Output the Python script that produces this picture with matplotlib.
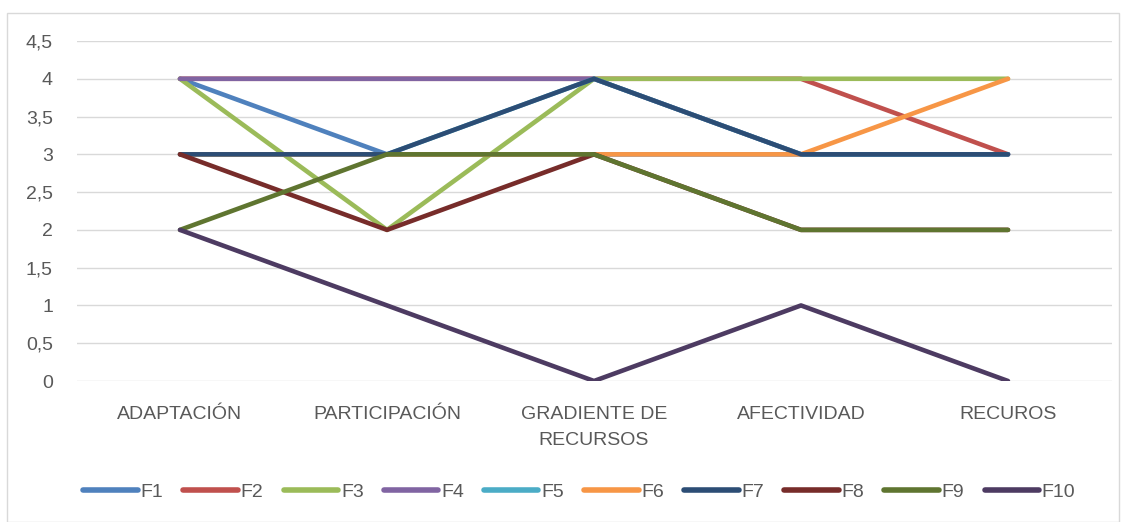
import matplotlib
matplotlib.use("Agg")
import matplotlib.pyplot as plt
from matplotlib.patches import Rectangle

categories = ["ADAPTACIÓN", "PARTICIPACIÓN", "GRADIENTE DE\nRECURSOS", "AFECTIVIDAD", "RECUROS"]
series_names = ["F1", "F2", "F3", "F4", "F5", "F6", "F7", "F8", "F9", "F10"]
f1 = [4, 3, 3, 3, 3]
f2 = [4, 4, 4, 4, 3]
f3 = [4, 2, 4, 4, 4]
f4 = [4, 4, 4, 3, 3]
f5 = [3, 3, 4, 3, 3]
f6 = [3, 3, 3, 3, 4]
f7 = [3, 3, 4, 3, 3]
f8 = [3, 2, 3, 2, 2]
f9 = [2, 3, 3, 2, 2]
f10 = [2, 1, 0, 1, 0]
y_ticks = [0, 0.5, 1, 1.5, 2, 2.5, 3, 3.5, 4, 4.5]
y_tick_labels = ["0", "0,5", "1", "1,5", "2", "2,5", "3", "3,5", "4", "4,5"]

colors = ["#4F81BD", "#C0504D", "#9BBB59", "#8064A2", "#4BACC6",
          "#F79646", "#2C4D75", "#772C2A", "#5F7530", "#4D3B62"]

plt.rcParams['font.family'] = ['Liberation Sans', 'DejaVu Sans']

fig = plt.figure(figsize=(11.25, 5.22), dpi=100)
fig.patches.append(Rectangle((7 / 1125, 0), 1112 / 1125, 1 - 13 / 522,
                             transform=fig.transFigure, fill=False,
                             edgecolor="#d9d9d9", linewidth=1))
ax = fig.add_axes([76.5 / 1125, 1 - 381 / 522, 1035 / 1125, 340 / 522])

x = list(range(len(categories)))
all_series = [f1, f2, f3, f4, f5, f6, f7, f8, f9, f10]
for name, vals, c in zip(series_names, all_series, colors):
    ax.plot(x, vals, color=c, linewidth=3.3, solid_capstyle="round",
            solid_joinstyle="round", label=name)

ax.set_xlim(-0.5, len(categories) - 0.5)
ax.set_ylim(0, 4.5)
ax.set_yticks(y_ticks)
ax.set_yticklabels(y_tick_labels)
ax.set_xticks(x)
ax.set_xticklabels(categories, linespacing=1.7)
ax.grid(axis="y", color="#d9d9d9", linewidth=1)
ax.set_axisbelow(True)
for s in ax.spines.values():
    s.set_visible(False)
ax.tick_params(axis="both", length=0, colors="#595959", labelsize=14)
ax.tick_params(axis="x", pad=18)
ax.tick_params(axis="y", pad=17)

leg = fig.legend(loc="center", bbox_to_anchor=(0.515, 1 - 492 / 522), ncol=10,
                 frameon=False, fontsize=14, handlelength=2.8,
                 handletextpad=0.15, columnspacing=1.03, labelcolor="#595959")
for h in leg.get_lines():
    h.set_linewidth(4)
    h.set_solid_capstyle("round")

fig.savefig("out.png", dpi=100)
